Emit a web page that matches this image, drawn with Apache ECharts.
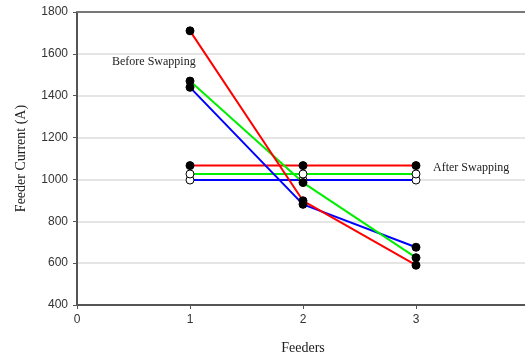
<!DOCTYPE html>
<html>
<head>
<meta charset="utf-8">
<script src="https://cdn.jsdelivr.net/npm/echarts@6/dist/echarts.min.js"></script>
<style>
  html, body { margin: 0; padding: 0; background: #fff; }
  #chart { width: 525px; height: 358px; }
</style>
</head>
<body>
<div id="chart"></div>
<script>
let feeders = [1, 2, 3];

// before swapping (filled markers)
let beforeRed = [1710, 898, 590];
let beforeGreen = [1470, 985, 626];
let beforeBlue = [1440, 881, 676];

// after swapping
let afterRed = [1066, 1066, 1066];
let afterGreen = [1026, 1026, 1026];
let afterBlue = [997, 997, 997];

let yTicks = [400, 600, 800, 1000, 1200, 1400, 1600, 1800];
let xTicks = [0, 1, 2, 3];

let chart = echarts.init(document.getElementById('chart'));

function pairs(vals) {
    return feeders.map(function (f, i) { return [f, vals[i]]; });
}

function line(name, color, vals, open) {
    return {
        name: name,
        type: 'line',
        data: pairs(vals),
        symbol: 'circle',
        symbolSize: 8,
        lineStyle: { color: color, width: 2 },
        itemStyle: {
            color: open ? '#fff' : '#000',
            borderColor: '#000',
            borderWidth: 1
        },
        animation: false
    };
}

let serif = '"Liberation Serif", "Times New Roman", serif';
let sans = '"Liberation Sans", Arial, sans-serif';

let option = {
    backgroundColor: '#fff',
    grid: {
        left: 77,
        top: 12,
        width: 452,
        height: 293,
        outerBoundsMode: 'none',
        containLabel: false
    },
    xAxis: [{
        type: 'value',
        min: 0,
        max: 4,
        interval: 1,
        name: 'Feeders',
        nameLocation: 'middle',
        nameGap: 36,
        nameTextStyle: { fontFamily: serif, fontSize: 14, color: '#222' },
        axisLine: { lineStyle: { color: '#555', width: 2 } },
        axisTick: { show: true, length: 4, lineStyle: { color: '#555' } },
        axisLabel: {
            fontFamily: sans, fontSize: 12, color: '#333', margin: 9,
            formatter: function (v) { return xTicks.indexOf(v) >= 0 ? String(v) : ''; }
        },
        splitLine: { show: false }
    }, {
        // top frame line
        type: 'value',
        position: 'top',
        min: 0,
        max: 4,
        axisLine: { show: true, lineStyle: { color: '#777', width: 2 } },
        axisTick: { show: false },
        axisLabel: { show: false },
        splitLine: { show: false }
    }],
    yAxis: {
        type: 'value',
        min: yTicks[0],
        max: yTicks[yTicks.length - 1],
        interval: 200,
        name: 'Feeder Current (A)',
        nameLocation: 'middle',
        nameGap: 49,
        nameTextStyle: { fontFamily: serif, fontSize: 14, color: '#222' },
        axisLine: { show: true, lineStyle: { color: '#555', width: 2 } },
        axisTick: { show: true, length: 4, lineStyle: { color: '#555' } },
        axisLabel: {
            fontFamily: sans, fontSize: 12, color: '#333', margin: 9,
            formatter: function (v) { return String(v); }
        },
        splitLine: { show: true, lineStyle: { color: '#dcdcdc', width: 1.5 } }
    },
    graphic: [
        {
            type: 'text', left: 112, top: 56,
            style: { text: 'Before Swapping', font: '12px ' + serif, fill: '#222' }
        },
        {
            type: 'text', left: 433, top: 162,
            style: { text: 'After Swapping', font: '12px ' + serif, fill: '#222' }
        }
    ],
    series: [
        line('After Blue', '#0000ff', afterBlue, true),
        line('After Green', '#00ee00', afterGreen, true),
        line('After Red', '#ff0000', afterRed, false),
        line('Before Blue', '#0000ff', beforeBlue, false),
        line('Before Green', '#00ee00', beforeGreen, false),
        line('Before Red', '#ff0000', beforeRed, false)
    ]
};

chart.setOption(option);
</script>
</body>
</html>
